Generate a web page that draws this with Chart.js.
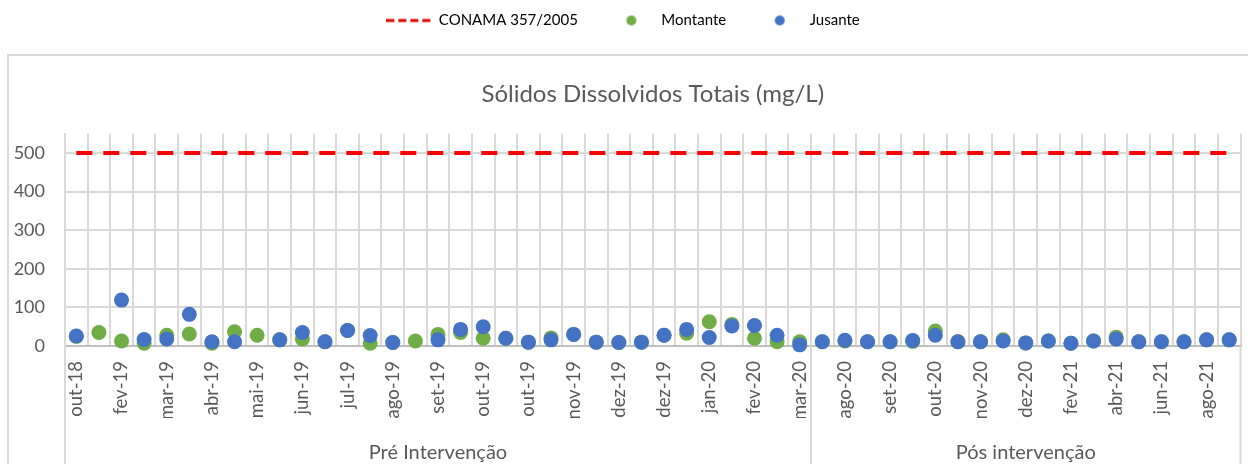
<!DOCTYPE html>
<html>
<head>
<meta charset="utf-8">
<script src="https://cdn.jsdelivr.net/npm/chart.js@4"></script>
<style>
  html, body { margin: 0; padding: 0; background: #fff; }
  #wrap { width: 1248px; height: 464px; position: relative; }
</style>
</head>
<body>
<div id="wrap"><canvas id="sdtChart"></canvas></div>
<script>
// categories (only every other one is labelled in the original)
var labels = [
  'out-18', '', 'fev-19', '', 'mar-19', '', 'abr-19', '', 'mai-19', '',
  'jun-19', '', 'jul-19', '', 'ago-19', '', 'set-19', '', 'out-19', '',
  'out-19', '', 'nov-19', '', 'dez-19', '', 'dez-19', '', 'jan-20', '',
  'fev-20', '', 'mar-20',
  '', 'ago-20', '', 'set-20', '', 'out-20', '', 'nov-20', '', 'dez-20',
  '', 'fev-21', '', 'abr-21', '', 'jun-21', '', 'ago-21', ''
];

// Sólidos Dissolvidos Totais (mg/L)
var montante = [
  25, 35, 13, 7, 28, 31, 7, 37, 28, 16,
  18, 11, 40, 7, 9, 13, 30, 35, 20, 20,
  10, 21, 30, 10, 9, 10, 28, 33, 63, 56,
  20, 11, 11,
  11, 13, 11, 11, 12, 39, 11, 11, 16, 8,
  13, 7, 13, 23, 11, 11, 11, 16, 16
];
var jusante = [
  26, null, 119, 17, 18, 82, 11, 11, null, 16,
  35, 11, 40, 27, 9, null, 16, 43, 50, 20,
  10, 16, 30, 10, 9, 10, 28, 43, 22, 52,
  53, 28, 3,
  11, 15, 11, 11, 14, 28, 11, 11, 13, 8,
  13, 7, 13, 18, 11, 11, 11, 16, 16
];
var conamaLimit = 500;

// category groups below the axis
var groupNames = ['Pré Intervenção', 'Pós intervenção'];
var groupSizes = [33, 19];

// y axis
var yTicks = [0, 100, 200, 300, 400, 500];
var yMax = 550;

var groupCenters = [];
var groupBounds = [-0.5];
var start = 0;
groupSizes.forEach(function(n) {
  groupCenters.push(start + (n - 1) / 2);
  start += n;
  groupBounds.push(start - 0.5);
});

function legendLine(color) {
  var c = document.createElement('canvas');
  c.width = 45; c.height = 6;
  var g = c.getContext('2d');
  g.strokeStyle = color;
  g.lineWidth = 3;
  g.setLineDash([8, 4]);
  g.beginPath(); g.moveTo(0, 3); g.lineTo(45, 3); g.stroke();
  return c;
}
function legendDot(color) {
  var c = document.createElement('canvas');
  c.width = 12; c.height = 12;
  var g = c.getContext('2d');
  g.fillStyle = color;
  g.beginPath(); g.arc(6, 6, 5, 0, Math.PI * 2); g.fill();
  return c;
}
var legendMarks = [legendLine('#e00000'), legendDot('#70ad47'), legendDot('#4472c4')];

// outer frame and the group separators under the axis
var framePlugin = {
  id: 'frame',
  beforeDraw: function(chart) {
    var ctx = chart.ctx;
    ctx.save();
    ctx.strokeStyle = '#d9d9d9';
    ctx.lineWidth = 2;
    ctx.strokeRect(8, 55, 1400, 600);
    ctx.restore();
  },
  afterDraw: function(chart) {
    var ctx = chart.ctx;
    var x = chart.scales.x;
    ctx.save();
    ctx.strokeStyle = '#d9d9d9';
    ctx.lineWidth = 2;
    groupBounds.forEach(function(b) {
      var px = x.getPixelForValue(b);
      ctx.beginPath();
      ctx.moveTo(px, chart.chartArea.bottom);
      ctx.lineTo(px, chart.height);
      ctx.stroke();
    });
    ctx.restore();
  }
};

function noSidePadding(axis) {
  axis.paddingLeft = 0;
  axis.paddingRight = 0;
}

var ctx = document.getElementById('sdtChart').getContext('2d');

new Chart(ctx, {
  type: 'line',
  data: {
    labels: labels,
    datasets: [{
      label: 'CONAMA 357/2005',
      data: labels.map(function() { return conamaLimit; }),
      borderColor: '#ff0000',
      borderWidth: 4,
      borderDash: [16, 11],
      pointRadius: 0,
      order: 2
    }, {
      label: 'Montante',
      data: montante,
      showLine: false,
      pointRadius: 7.5,
      pointHoverRadius: 7.5,
      pointBorderWidth: 0,
      backgroundColor: '#70ad47',
      borderColor: '#70ad47',
      clip: false,
      order: 1
    }, {
      label: 'Jusante',
      data: jusante,
      showLine: false,
      pointRadius: 7.5,
      pointHoverRadius: 7.5,
      pointBorderWidth: 0,
      backgroundColor: '#4472c4',
      borderColor: '#4472c4',
      clip: false,
      order: 0
    }]
  },
  options: {
    responsive: true,
    maintainAspectRatio: false,
    animation: false,
    layout: {
      padding: { top: -18, left: 0, right: 2, bottom: 0 }
    },
    plugins: {
      legend: {
        position: 'top',
        weight: 3000,
        labels: {
          usePointStyle: true,
          pointStyleWidth: 45,
          padding: 31,
          color: '#000',
          font: { family: 'Lato', size: 15 },
          sort: function(a, b) { return a.datasetIndex - b.datasetIndex; },
          generateLabels: function(chart) {
            var items = Chart.defaults.plugins.legend.labels.generateLabels(chart);
            items.forEach(function(it) { it.pointStyle = legendMarks[it.datasetIndex]; });
            return items;
          }
        }
      },
      title: {
        display: true,
        text: 'Sólidos Dissolvidos Totais (mg/L)',
        fullSize: false,
        weight: 500,
        color: '#595959',
        font: { family: 'Lato', size: 24, weight: 'normal' },
        padding: { top: 42, bottom: 25 }
      },
      tooltip: { enabled: false }
    },
    scales: {
      x: {
        type: 'category',
        offset: true,
        grid: { offset: true, color: '#d9d9d9', lineWidth: 2, drawTicks: false },
        border: { color: '#bfbfbf', width: 2 },
        afterFit: function(axis) {
          noSidePadding(axis);
          axis.height = 72;
        },
        ticks: {
          autoSkip: false,
          minRotation: 90,
          maxRotation: 90,
          padding: 15,
          color: '#595959',
          font: { family: 'Lato', size: 18.5 }
        }
      },
      x2: {
        type: 'linear',
        position: 'bottom',
        min: -0.5,
        max: 51.5,
        grid: { display: false },
        border: { display: false },
        afterBuildTicks: function(axis) {
          axis.ticks = groupCenters.map(function(v) { return { value: v }; });
        },
        afterFit: function(axis) {
          noSidePadding(axis);
          axis.height = 46;
        },
        ticks: {
          autoSkip: false,
          maxRotation: 0,
          padding: 15,
          color: '#595959',
          font: { family: 'Lato', size: 20 },
          callback: function(value) {
            var i = groupCenters.indexOf(value);
            return i >= 0 ? groupNames[i] : '';
          }
        }
      },
      y: {
        min: 0,
        max: yMax,
        grid: { color: '#d9d9d9', lineWidth: 2, drawTicks: false },
        border: { color: '#d9d9d9', width: 2 },
        afterBuildTicks: function(axis) {
          axis.ticks = yTicks.map(function(v) { return { value: v }; });
        },
        afterFit: function(axis) {
          axis.width = 65;
        },
        ticks: {
          padding: 20,
          color: '#595959',
          font: { family: 'Lato', size: 18 }
        }
      }
    }
  },
  plugins: [framePlugin]
});
</script>
</body>
</html>
